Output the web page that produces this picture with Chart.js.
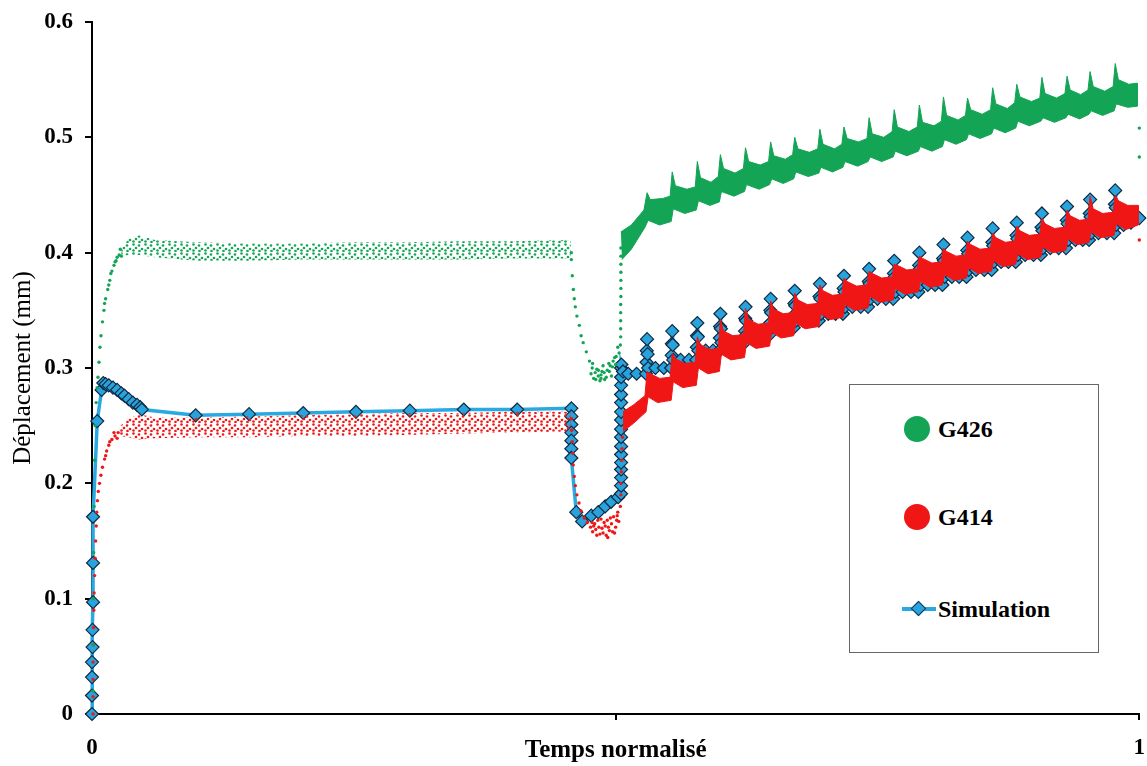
<!DOCTYPE html>
<html lang="fr">
<head>
<meta charset="utf-8">
<title>Déplacement en fonction du temps normalisé</title>
<script src="https://cdn.jsdelivr.net/npm/chart.js@4.4.1/dist/chart.umd.min.js"></script>
<style>
  html, body { margin: 0; padding: 0; background: #fff; }
  #wrap { position: relative; width: 1147px; height: 766px; }
  #chart { position: absolute; left: 0; top: 0; }
  #legend {
    position: absolute; left: 849px; top: 384px; width: 250px; height: 269px;
    box-sizing: border-box; border: 1.5px solid #666; background: #fff;
    font: bold 24px 'Liberation Serif', 'Times New Roman', serif; color: #000;
  }
  .legend-item { position: absolute; left: 0; width: 100%; height: 30px; line-height: 30px; }
  .legend-label { position: absolute; left: 88px; top: 0; white-space: nowrap; }
  .legend-dot { position: absolute; left: 54px; top: 2px; width: 26px; height: 26px; border-radius: 50%; }
  .legend-line { position: absolute; left: 52px; top: 13px; width: 34px; height: 4px; background: #29a9e1; }
  .legend-diamond {
    position: absolute; left: 63px; top: 9px; width: 9px; height: 9px;
    transform: rotate(45deg); background: #29a3dc; border: 1px solid #133655;
  }
</style>
</head>
<body>
<div id="wrap">
  <canvas id="chart" width="1147" height="766"></canvas>
  <div id="legend">
    <div class="legend-item" style="top:29px"><span class="legend-dot" style="background:#13a455"></span><span class="legend-label">G426</span></div>
    <div class="legend-item" style="top:117px"><span class="legend-dot" style="background:#f01616"></span><span class="legend-label">G414</span></div>
    <div class="legend-item" style="top:209px"><span class="legend-line"></span><span class="legend-diamond"></span><span class="legend-label">Simulation</span></div>
  </div>
</div>

<script>
// Axis ticks and titles
const xTicks = [0, 0.5, 1];
const xTickLabels = ['0', '', '1'];
const yTicks = [0, 0.1, 0.2, 0.3, 0.4, 0.5, 0.6];
const yTickLabels = ['0', '0.1', '0.2', '0.3', '0.4', '0.5', '0.6'];
const xTitle = 'Temps normalisé';
const yTitle = 'Déplacement (mm)';

// G426 (green) : single dots of the transients, [t, déplacement]
const g426Dots = [
  [0.001, 0.02], [0.001, 0.06], [0.0012, 0.10], [0.0015, 0.14], [0.002, 0.18], [0.0025, 0.22],
  [0.003, 0.25], [0.004, 0.27], [0.005, 0.283], [0.0057, 0.292], [0.0067, 0.305], [0.0076, 0.318],
  [0.0086, 0.328], [0.010, 0.340], [0.0114, 0.350], [0.012, 0.356], [0.013, 0.360], [0.015, 0.368],
  [0.016, 0.372], [0.017, 0.376], [0.018, 0.382], [0.019, 0.384], [0.021, 0.389], [0.022, 0.392],
  [0.023, 0.393], [0.024, 0.396], [0.026, 0.398], [0.027, 0.403], [0.028, 0.397],
  // chute
  [0.4577, 0.400], [0.4577, 0.394], [0.4586, 0.380], [0.4596, 0.368], [0.4605, 0.360], [0.4615, 0.353],
  [0.463, 0.345], [0.4653, 0.337], [0.467, 0.328], [0.469, 0.322], [0.472, 0.314], [0.475, 0.306],
  [0.4776, 0.300], [0.4805, 0.296], [0.4834, 0.293], [0.486, 0.294], [0.486, 0.291], [0.489, 0.296],
  [0.492, 0.298], [0.4948, 0.302], [0.4976, 0.306], [0.5005, 0.310], [0.5033, 0.313],
  [0.479, 0.291], [0.482, 0.299], [0.485, 0.289], [0.488, 0.302], [0.491, 0.292], [0.494, 0.297],
  [0.497, 0.301], [0.500, 0.303], [0.502, 0.318], [0.4765, 0.295], [0.4835, 0.298], [0.4895, 0.290],
  [0.4935, 0.304], [0.478, 0.304], [0.481, 0.290], [0.487, 0.297], [0.496, 0.293], [0.499, 0.309],
  // remontée
  [0.5045, 0.320], [0.5048, 0.327], [0.5048, 0.334], [0.5048, 0.341], [0.5048, 0.348], [0.5048, 0.355],
  [0.505, 0.362], [0.505, 0.369], [0.505, 0.376], [0.505, 0.383], [0.505, 0.390], [0.505, 0.397],
  [0.505, 0.404],
  [1.0, 0.508], [1.0, 0.483]
];

// G426 : sparse plateau, t with upper and lower edge of the cloud
const g426BandT = [0.028, 0.035, 0.045, 0.06, 0.1, 0.15, 0.2, 0.25, 0.3, 0.35, 0.4, 0.457];
const g426BandHi = [0.404, 0.412, 0.415, 0.411, 0.409, 0.408, 0.408, 0.409, 0.409, 0.410, 0.410, 0.411];
const g426BandLo = [0.397, 0.398, 0.398, 0.396, 0.393, 0.393, 0.394, 0.394, 0.394, 0.394, 0.395, 0.395];

// G426 : dense cyclic part, upper and lower edge of the cloud
const g426Upper = [
  [0.505, 0.418], [0.515, 0.424], [0.527, 0.437],
  [0.530, 0.452], [0.533, 0.446], [0.545, 0.447], [0.552, 0.449],
  [0.554, 0.470], [0.557, 0.458], [0.568, 0.455], [0.576, 0.457],
  [0.578, 0.479], [0.581, 0.465], [0.591, 0.461], [0.598, 0.466],
  [0.600, 0.485], [0.603, 0.473], [0.614, 0.469], [0.622, 0.473],
  [0.624, 0.491], [0.627, 0.479], [0.638, 0.476], [0.646, 0.479],
  [0.648, 0.496], [0.651, 0.484], [0.662, 0.481], [0.669, 0.485],
  [0.671, 0.500], [0.674, 0.490], [0.685, 0.487], [0.693, 0.490],
  [0.695, 0.507], [0.698, 0.494], [0.709, 0.490], [0.716, 0.494],
  [0.718, 0.509], [0.721, 0.499], [0.732, 0.496], [0.740, 0.499],
  [0.742, 0.517], [0.745, 0.503], [0.756, 0.500], [0.764, 0.505],
  [0.766, 0.524], [0.769, 0.509], [0.780, 0.505], [0.788, 0.509],
  [0.790, 0.528], [0.793, 0.513], [0.804, 0.510], [0.811, 0.514],
  [0.813, 0.535], [0.816, 0.519], [0.827, 0.515], [0.834, 0.519],
  [0.836, 0.534], [0.839, 0.524], [0.850, 0.520], [0.858, 0.524],
  [0.860, 0.543], [0.863, 0.529], [0.874, 0.525], [0.881, 0.530],
  [0.883, 0.546], [0.886, 0.535], [0.897, 0.531], [0.905, 0.534],
  [0.907, 0.552], [0.910, 0.538], [0.921, 0.534], [0.929, 0.538],
  [0.931, 0.553], [0.934, 0.541], [0.944, 0.537], [0.951, 0.541],
  [0.953, 0.557], [0.956, 0.544], [0.967, 0.540], [0.975, 0.544],
  [0.977, 0.564], [0.980, 0.550], [0.990, 0.546], [0.998, 0.547]
];
const g426Lower = [
  [0.506, 0.394], [0.515, 0.403], [0.528, 0.422],
  [0.531, 0.428], [0.542, 0.424], [0.553, 0.427],
  [0.555, 0.438], [0.566, 0.434], [0.577, 0.437],
  [0.579, 0.445], [0.590, 0.441], [0.599, 0.444],
  [0.601, 0.453], [0.613, 0.449], [0.623, 0.453],
  [0.625, 0.459], [0.637, 0.455], [0.647, 0.459],
  [0.649, 0.464], [0.660, 0.460], [0.670, 0.464],
  [0.672, 0.470], [0.684, 0.466], [0.694, 0.469],
  [0.696, 0.474], [0.707, 0.470], [0.717, 0.474],
  [0.719, 0.479], [0.731, 0.475], [0.741, 0.479],
  [0.743, 0.483], [0.754, 0.479], [0.765, 0.483],
  [0.767, 0.488], [0.778, 0.484], [0.789, 0.488],
  [0.791, 0.492], [0.802, 0.488], [0.812, 0.492],
  [0.814, 0.498], [0.825, 0.494], [0.835, 0.498],
  [0.837, 0.503], [0.848, 0.499], [0.859, 0.503],
  [0.861, 0.508], [0.872, 0.504], [0.882, 0.508],
  [0.884, 0.514], [0.895, 0.510], [0.906, 0.514],
  [0.908, 0.517], [0.919, 0.513], [0.930, 0.517],
  [0.932, 0.520], [0.943, 0.516], [0.952, 0.520],
  [0.954, 0.523], [0.965, 0.519], [0.976, 0.523],
  [0.978, 0.529], [0.989, 0.526], [0.998, 0.527]
];

// G414 (red) : single dots of the transients
const g414Dots = [
  [0.001, 0.0], [0.001, 0.015], [0.001, 0.03], [0.001, 0.045], [0.0012, 0.06], [0.0014, 0.075],
  [0.0017, 0.09], [0.002, 0.105], [0.0025, 0.12], [0.003, 0.135], [0.0035, 0.15], [0.004, 0.163],
  [0.0045, 0.175], [0.0052, 0.185], [0.006, 0.193], [0.0072, 0.200], [0.0085, 0.207], [0.010, 0.214],
  [0.012, 0.221], [0.014, 0.228], [0.016, 0.233], [0.019, 0.238], [0.022, 0.241], [0.025, 0.244],
  [0.013, 0.224], [0.017, 0.236], [0.021, 0.244], [0.024, 0.239],
  // chute
  [0.4577, 0.256], [0.458, 0.246], [0.4585, 0.236], [0.459, 0.226], [0.4595, 0.216], [0.4605, 0.206],
  [0.4615, 0.198], [0.463, 0.190], [0.465, 0.183], [0.467, 0.176], [0.470, 0.170], [0.473, 0.166],
  [0.476, 0.162],
  [0.478, 0.158], [0.480, 0.165], [0.482, 0.155], [0.484, 0.162], [0.486, 0.169], [0.488, 0.157],
  [0.490, 0.163], [0.492, 0.168], [0.494, 0.159], [0.496, 0.165], [0.498, 0.171], [0.500, 0.162],
  [0.502, 0.175], [0.503, 0.167], [0.479, 0.163], [0.483, 0.168], [0.487, 0.161], [0.491, 0.155],
  [0.495, 0.170], [0.499, 0.157], [0.501, 0.168], [0.481, 0.160], [0.485, 0.156], [0.489, 0.166],
  [0.493, 0.162], [0.497, 0.158], [0.4775, 0.166], [0.5015, 0.172], [0.4925, 0.153],
  // remontée
  [0.5045, 0.180], [0.505, 0.190], [0.505, 0.200], [0.5055, 0.210], [0.5058, 0.220], [0.506, 0.230],
  [0.5065, 0.240],
  [1.0, 0.411]
];

// G414 : sparse plateau
const g414BandT = [0.026, 0.035, 0.045, 0.06, 0.1, 0.15, 0.2, 0.25, 0.3, 0.35, 0.4, 0.457];
const g414BandHi = [0.249, 0.256, 0.260, 0.257, 0.257, 0.258, 0.259, 0.260, 0.261, 0.261, 0.262, 0.262];
const g414BandLo = [0.241, 0.240, 0.238, 0.239, 0.240, 0.240, 0.241, 0.241, 0.242, 0.243, 0.244, 0.245];

// G414 : dense cyclic part
const g414Upper = [
  [0.507, 0.262], [0.517, 0.268], [0.528, 0.276],
  [0.530, 0.297], [0.533, 0.295], [0.542, 0.291], [0.552, 0.292],
  [0.554, 0.313], [0.557, 0.308], [0.566, 0.304], [0.576, 0.305],
  [0.578, 0.327], [0.581, 0.320], [0.590, 0.316], [0.598, 0.317],
  [0.600, 0.342], [0.603, 0.332], [0.612, 0.328], [0.622, 0.329],
  [0.624, 0.352], [0.627, 0.342], [0.636, 0.338], [0.646, 0.339],
  [0.648, 0.358], [0.651, 0.351], [0.660, 0.347], [0.669, 0.348],
  [0.671, 0.365], [0.674, 0.359], [0.683, 0.355], [0.693, 0.356],
  [0.695, 0.372], [0.698, 0.367], [0.707, 0.363], [0.716, 0.364],
  [0.718, 0.378], [0.721, 0.375], [0.730, 0.371], [0.740, 0.372],
  [0.742, 0.384], [0.745, 0.382], [0.754, 0.378], [0.764, 0.379],
  [0.766, 0.390], [0.769, 0.389], [0.778, 0.385], [0.788, 0.386],
  [0.790, 0.397], [0.793, 0.395], [0.802, 0.391], [0.811, 0.392],
  [0.813, 0.404], [0.816, 0.401], [0.825, 0.397], [0.834, 0.398],
  [0.836, 0.410], [0.839, 0.407], [0.848, 0.403], [0.858, 0.404],
  [0.860, 0.417], [0.863, 0.413], [0.872, 0.409], [0.881, 0.410],
  [0.883, 0.423], [0.886, 0.419], [0.895, 0.415], [0.905, 0.416],
  [0.907, 0.430], [0.910, 0.425], [0.919, 0.421], [0.929, 0.422],
  [0.931, 0.437], [0.934, 0.432], [0.943, 0.428], [0.951, 0.429],
  [0.953, 0.449], [0.956, 0.438], [0.965, 0.434], [0.975, 0.435],
  [0.977, 0.450], [0.980, 0.445], [0.989, 0.441], [0.999, 0.441]
];
const g414Lower = [
  [0.507, 0.245], [0.517, 0.252], [0.529, 0.262],
  [0.531, 0.275], [0.540, 0.270], [0.553, 0.272],
  [0.555, 0.288], [0.564, 0.283], [0.577, 0.285],
  [0.579, 0.300], [0.588, 0.295], [0.599, 0.297],
  [0.601, 0.312], [0.610, 0.307], [0.623, 0.309],
  [0.625, 0.322], [0.634, 0.317], [0.647, 0.319],
  [0.649, 0.331], [0.658, 0.326], [0.670, 0.328],
  [0.672, 0.339], [0.681, 0.334], [0.694, 0.336],
  [0.696, 0.347], [0.705, 0.342], [0.717, 0.344],
  [0.719, 0.355], [0.728, 0.350], [0.741, 0.352],
  [0.743, 0.362], [0.752, 0.357], [0.765, 0.359],
  [0.767, 0.369], [0.776, 0.364], [0.789, 0.366],
  [0.791, 0.375], [0.800, 0.370], [0.812, 0.372],
  [0.814, 0.381], [0.823, 0.376], [0.835, 0.378],
  [0.837, 0.387], [0.846, 0.382], [0.859, 0.384],
  [0.861, 0.393], [0.870, 0.388], [0.882, 0.390],
  [0.884, 0.399], [0.893, 0.394], [0.906, 0.396],
  [0.908, 0.405], [0.917, 0.400], [0.930, 0.402],
  [0.932, 0.412], [0.941, 0.407], [0.952, 0.409],
  [0.954, 0.418], [0.963, 0.413], [0.976, 0.415],
  [0.978, 0.425], [0.987, 0.420], [0.999, 0.424]
];

// Simulation : every diamond, in drawing order
const simPoints = [
  [0, 0], [0, 0.016], [0, 0.032], [0, 0.045], [0.0005, 0.058], [0.0005, 0.073], [0.001, 0.097],
  [0.001, 0.131], [0.001, 0.171], [0.005, 0.254], [0.0092, 0.281], [0.0108, 0.287],
  [0.013, 0.286], [0.016, 0.285], [0.020, 0.283], [0.024, 0.281], [0.028, 0.278], [0.031, 0.276],
  [0.035, 0.273], [0.039, 0.270], [0.043, 0.268], [0.046, 0.266], [0.0476, 0.264],
  [0.099, 0.259], [0.150, 0.260], [0.2017, 0.261], [0.252, 0.262], [0.3035, 0.263], [0.355, 0.264],
  [0.406, 0.264], [0.4577, 0.265],
  [0.4577, 0.258], [0.4577, 0.251], [0.4577, 0.244], [0.4577, 0.237], [0.4577, 0.230], [0.4577, 0.222],
  [0.4624, 0.175], [0.468, 0.167], [0.4767, 0.172], [0.4834, 0.175], [0.490, 0.180], [0.4957, 0.184],
  [0.5024, 0.188], [0.5052, 0.191],
  [0.5052, 0.198], [0.5052, 0.205], [0.5052, 0.212], [0.5052, 0.218], [0.5052, 0.225], [0.5052, 0.232],
  [0.5052, 0.240], [0.5052, 0.247], [0.5052, 0.255], [0.5052, 0.262], [0.5052, 0.270], [0.5052, 0.277],
  [0.5052, 0.285], [0.5052, 0.292], [0.5052, 0.300], [0.5055, 0.303],
  [0.507, 0.297], [0.512, 0.295], [0.520, 0.295], [0.529, 0.295],
  [0.5295, 0.305], [0.5297, 0.315], [0.530, 0.325], [0.5305, 0.312], [0.531, 0.300], [0.538, 0.300], [0.546, 0.300], [0.553, 0.300],
  [0.5535, 0.311], [0.5537, 0.321], [0.554, 0.332], [0.5545, 0.320], [0.555, 0.307], [0.562, 0.307], [0.570, 0.307], [0.577, 0.307],
  [0.5775, 0.318], [0.5777, 0.328], [0.578, 0.339], [0.5785, 0.327], [0.579, 0.315], [0.586, 0.315], [0.593, 0.315], [0.599, 0.315],
  [0.5995, 0.326], [0.5997, 0.336], [0.600, 0.347], [0.6005, 0.334], [0.601, 0.322], [0.608, 0.322], [0.616, 0.322], [0.623, 0.322],
  [0.6235, 0.332], [0.6237, 0.343], [0.624, 0.353], [0.6245, 0.341], [0.625, 0.329], [0.632, 0.329], [0.640, 0.329], [0.647, 0.329],
  [0.6475, 0.339], [0.6477, 0.350], [0.648, 0.360], [0.6485, 0.348], [0.649, 0.335], [0.656, 0.335], [0.663, 0.335], [0.670, 0.335],
  [0.6705, 0.346], [0.6707, 0.356], [0.671, 0.367], [0.6715, 0.354], [0.672, 0.341], [0.679, 0.341], [0.687, 0.341], [0.694, 0.341],
  [0.6945, 0.352], [0.6947, 0.362], [0.695, 0.373], [0.6955, 0.360], [0.696, 0.347], [0.703, 0.347], [0.710, 0.347], [0.717, 0.347],
  [0.7175, 0.358], [0.7177, 0.369], [0.718, 0.380], [0.7185, 0.366], [0.719, 0.353], [0.726, 0.353], [0.734, 0.353], [0.741, 0.353],
  [0.7415, 0.364], [0.7417, 0.375], [0.742, 0.386], [0.7425, 0.373], [0.743, 0.360], [0.750, 0.360], [0.758, 0.360], [0.765, 0.360],
  [0.7655, 0.371], [0.7657, 0.382], [0.766, 0.393], [0.7665, 0.379], [0.767, 0.366], [0.774, 0.366], [0.782, 0.366], [0.789, 0.366],
  [0.7895, 0.377], [0.7897, 0.389], [0.790, 0.400], [0.7905, 0.386], [0.791, 0.372], [0.798, 0.372], [0.805, 0.372], [0.812, 0.372],
  [0.8125, 0.384], [0.8127, 0.395], [0.813, 0.407], [0.8135, 0.393], [0.814, 0.379], [0.821, 0.379], [0.828, 0.379], [0.835, 0.379],
  [0.8355, 0.390], [0.8357, 0.402], [0.836, 0.413], [0.8365, 0.399], [0.837, 0.385], [0.844, 0.385], [0.852, 0.385], [0.859, 0.385],
  [0.8595, 0.397], [0.8597, 0.409], [0.860, 0.421], [0.8605, 0.406], [0.861, 0.392], [0.868, 0.392], [0.875, 0.392], [0.882, 0.392],
  [0.8825, 0.403], [0.8827, 0.415], [0.883, 0.426], [0.8835, 0.412], [0.884, 0.398], [0.891, 0.398], [0.899, 0.398], [0.906, 0.398],
  [0.9065, 0.410], [0.9067, 0.422], [0.907, 0.434], [0.9075, 0.419], [0.908, 0.404], [0.915, 0.404], [0.923, 0.404], [0.930, 0.404],
  [0.9305, 0.416], [0.9307, 0.428], [0.931, 0.440], [0.9315, 0.425], [0.932, 0.411], [0.939, 0.411], [0.946, 0.411], [0.952, 0.411],
  [0.9525, 0.423], [0.9527, 0.434], [0.953, 0.446], [0.9535, 0.431], [0.954, 0.417], [0.961, 0.417], [0.969, 0.417], [0.976, 0.417],
  [0.9765, 0.429], [0.9767, 0.442], [0.977, 0.454], [0.9775, 0.439], [0.978, 0.424], [0.985, 0.424], [0.992, 0.426], [1.0, 0.430]
];

const GREEN = '#13a455';
const RED = '#f01616';
const SIM_BLUE = '#29a9e1';
const SIM_EDGE = '#0f2a44';
const FONT = "'Liberation Serif', 'Times New Roman', serif";

/**
 * [t, v] pairs to Chart.js points
 */
function toXY(pairs) {
  return pairs.map(p => ({ x: p[0], y: p[1] }));
}

/**
 * Closed outline: upper edge forward, lower edge back
 */
function outline(upper, lower) {
  return toXY(upper.concat(lower.slice().reverse()));
}

function bandOutline(t, hi, lo) {
  const upper = t.map((v, i) => [v, hi[i]]);
  const lower = t.map((v, i) => [v, lo[i]]);
  return outline(upper, lower);
}

/**
 * Dotted fill used for the sparse parts of the measured clouds
 */
function dotPattern(ctx, color) {
  const c = document.createElement('canvas');
  c.width = 12;
  c.height = 9;
  const p = c.getContext('2d');
  p.fillStyle = color;
  [[1.5, 1.5], [7, 2.5], [4, 5], [10, 6], [1.5, 7.5], [7.5, 8]].forEach(d => {
    p.beginPath();
    p.arc(d[0], d[1], 1.3, 0, Math.PI * 2);
    p.fill();
  });
  return ctx.createPattern(c, 'repeat');
}

function dotsDataset(pairs, color) {
  return {
    data: toXY(pairs),
    showLine: false,
    pointRadius: 1.7,
    pointBackgroundColor: color,
    pointBorderWidth: 0,
    clip: false
  };
}

function shapeDataset(points, fillColor, edgeColor, edgeWidth) {
  return {
    data: points,
    showLine: true,
    fill: 'shape',
    backgroundColor: fillColor,
    borderColor: edgeColor,
    borderWidth: edgeWidth,
    pointRadius: 0,
    tension: 0
  };
}

function createChart() {
  const canvas = document.getElementById('chart');
  const ctx = canvas.getContext('2d');

  Chart.defaults.font.family = FONT;
  Chart.defaults.color = '#000';

  new Chart(ctx, {
    type: 'scatter',
    data: {
      datasets: [
        dotsDataset(g426Dots, GREEN),
        shapeDataset(outline(g426Upper, g426Lower), GREEN, GREEN, 1),
        shapeDataset(bandOutline(g426BandT, g426BandHi, g426BandLo), dotPattern(ctx, GREEN), 'rgba(0,0,0,0)', 0),
        dotsDataset(g414Dots, RED),
        shapeDataset(outline(g414Upper, g414Lower), RED, RED, 1),
        shapeDataset(bandOutline(g414BandT, g414BandHi, g414BandLo), dotPattern(ctx, RED), 'rgba(0,0,0,0)', 0),
        {
          data: toXY(simPoints),
          showLine: true,
          borderColor: SIM_BLUE,
          borderWidth: 3.5,
          tension: 0,
          pointStyle: 'rectRot',
          pointRadius: 6.5,
          pointBackgroundColor: '#29a3dc',
          pointBorderColor: SIM_EDGE,
          pointBorderWidth: 1.2,
          clip: false
        }
      ]
    },
    options: {
      responsive: false,
      animation: false,
      devicePixelRatio: 1,
      layout: { padding: { top: 22, right: 0, bottom: 0, left: 0 } },
      plugins: {
        legend: { display: false },
        tooltip: { enabled: false }
      },
      scales: {
        x: {
          type: 'linear',
          min: 0,
          max: 1,
          afterBuildTicks: scale => { scale.ticks = xTicks.map(v => ({ value: v })); },
          afterFit: scale => {
            scale.height = 52;
            scale.paddingLeft = 0;
            scale.paddingRight = 1;
          },
          grid: { display: true, drawOnChartArea: false, drawTicks: true, tickLength: 6, lineWidth: 2, tickColor: '#000' },
          border: { display: true, color: '#000', width: 2 },
          ticks: {
            autoSkip: false,
            maxRotation: 0,
            padding: 14,
            font: { size: 23, weight: 'bold' },
            callback: (value, index) => xTickLabels[index]
          },
          title: {
            display: true,
            text: xTitle,
            font: { size: 25, weight: 'bold' },
            padding: { top: 0, bottom: 0 }
          }
        },
        y: {
          type: 'linear',
          min: 0,
          max: 0.6,
          afterBuildTicks: scale => { scale.ticks = yTicks.map(v => ({ value: v })); },
          afterFit: scale => {
            scale.width = 92;
            scale.paddingTop = 0;
            scale.paddingBottom = 0;
          },
          grid: { display: true, drawOnChartArea: false, drawTicks: true, tickLength: 7, lineWidth: 2, tickColor: '#000' },
          border: { display: true, color: '#000', width: 2 },
          ticks: {
            padding: 12,
            font: { size: 23, weight: 'bold' },
            callback: (value, index) => yTickLabels[index]
          },
          title: {
            display: true,
            text: yTitle,
            font: { size: 25, weight: 'normal' },
            padding: { top: 8, bottom: 0 }
          }
        }
      }
    }
  });
}

createChart();
</script>
</body>
</html>
